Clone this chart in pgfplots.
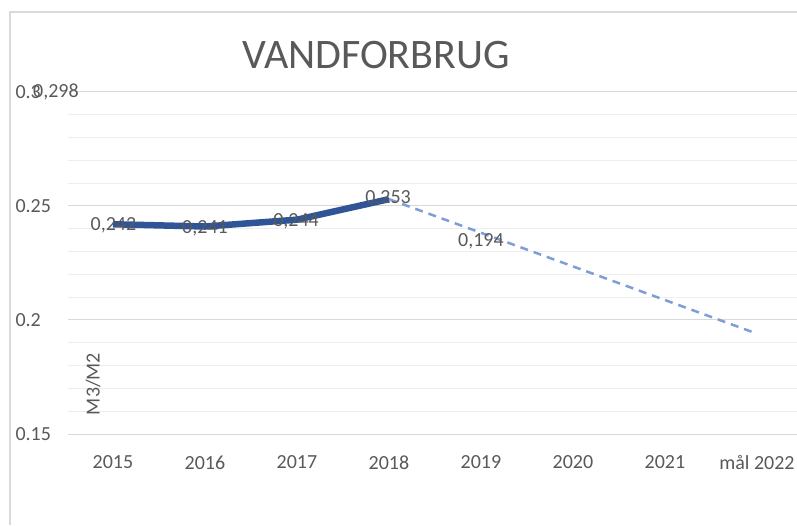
\documentclass[border=0pt]{standalone}
\usepackage{fontspec}
\setmainfont{Carlito}
\usepackage{pgfplots}
\pgfplotsset{compat=1.18}
\definecolor{txt}{HTML}{595959}
\definecolor{solidblue}{HTML}{2F5597}
\definecolor{dashblue}{HTML}{7F9ED6}
\definecolor{majgrid}{HTML}{D9D9D9}
\definecolor{mingrid}{HTML}{EEEEEE}
\begin{document}
\begin{tikzpicture}[x=1pt,y=1pt]
\path[use as bounding box] (0,0) rectangle (797,525);
\draw[gray!30, line width=1.2pt] (10,0) -- (10,513) -- (797,513);
\node[text=txt, font=\fontsize{42}{48}\selectfont] at (376,470) {VANDFORBRUG};
\begin{axis}[
  at={(68pt,91pt)}, anchor=south west,
  scale only axis, width=729pt, height=342pt,
  xmin=-0.489, xmax=7.435, ymin=0.15, ymax=0.3,
  xtick={0,...,7},
  xticklabels={2015,2016,2017,2018,2019,2020,2021,mål 2022},
  ytick={0.15,0.2,0.25,0.3},
  yticklabels={0.15,0.2,0.25,0.3},
  minor y tick num=4,
  ymajorgrids, yminorgrids,
  major grid style={majgrid, line width=1pt},
  minor grid style={mingrid, line width=1pt},
  axis line style={draw=none},
  tick style={draw=none},
  ticklabel style={text=txt, font=\fontsize{20}{24}\selectfont},
  yticklabel style={anchor=west, xshift=-56pt},
  xticklabel style={yshift=-18pt},
  clip=false,
]
\addplot[solidblue, line width=6.5pt, line join=round] coordinates {(0,0.242) (1,0.241) (2,0.244) (3,0.253)};
\addplot[dashblue, line width=2.5pt, dash pattern=on 8pt off 6pt] coordinates {(3,0.253) (7,0.194)};
\begin{scope}[every node/.style={text=txt, font=\fontsize{20}{24}\selectfont}]
\node at (axis cs:0.005,0.2417) {0,242};
\node at (axis cs:1.0,0.2404) {0,241};
\node at (axis cs:1.99,0.2434) {0,244};
\node at (axis cs:2.99,0.2535) {0,253};
\node at (axis cs:4.0,0.2346) {0,194};
\node at (axis cs:-0.62,0.3) {0,298};
\end{scope}
\end{axis}
\node[rotate=90, text=txt, font=\fontsize{20}{24}\selectfont] at (93,141) {M3/M2};
\end{tikzpicture}
\end{document}
